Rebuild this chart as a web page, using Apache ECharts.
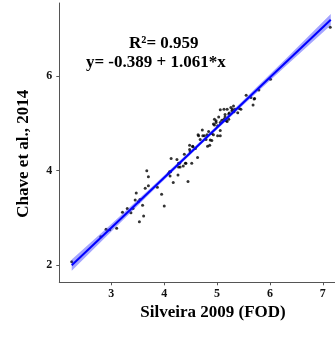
<!DOCTYPE html>
<html>
<head>
<meta charset="utf-8">
<script src="https://cdn.jsdelivr.net/npm/echarts@6/dist/echarts.min.js"></script>
<style>
html,body{margin:0;padding:0;background:#fff;}
#chart{width:335px;height:338px;}
</style>
</head>
<body>
<div id="chart"></div>
<script>
// Observed points (Silveira 2009 FOD on x, Chave et al. 2014 on y)
var ptsX = [2.25,2.80,2.90,2.97,3.10,3.21,3.30,3.37,3.41,3.45,3.47,3.51,3.54,3.53,3.59,3.61,3.64,3.67,3.70,3.70,
            3.87,3.95,4.00,4.10,4.11,4.13,4.17,4.24,4.26,4.29,4.30,4.36,4.38,4.41,4.45,4.48,4.49,4.52,4.54,4.59,
            4.63,4.65,4.68,4.72,4.76,4.82,4.87,4.93,4.95,4.95,4.98,5.01,5.06,5.06,5.09,5.13,5.15,5.19,5.22,5.23,
            5.26,5.28,5.31,5.34,5.39,5.42,5.55,5.64,5.68,5.70,5.79,6.01,7.14,5.29,5.32,5.19,5.15,5.22,5.03,5.13,
            4.98,4.93,5.06,5.17,5.06,4.84,4.73,4.79,4.90,4.86,5.01,4.64,4.81,4.90,4.54,4.48,4.27,4.40,4.27,4.12,
            4.08,5.45,5.71];
var ptsY = [2.07,2.60,2.76,2.75,2.78,3.12,3.20,3.11,3.20,3.38,3.53,3.34,3.39,2.92,3.27,3.04,3.63,4.00,3.87,3.68,
            3.65,3.50,3.25,3.98,3.89,4.26,3.75,4.24,3.91,4.16,4.08,4.10,4.35,4.16,3.77,4.54,4.40,4.16,4.51,4.47,
            4.28,4.74,4.66,4.86,4.74,4.52,4.65,4.76,4.97,5.09,5.02,4.95,4.74,5.29,5.07,5.30,5.14,5.04,5.09,5.22,
            5.34,5.27,5.37,5.30,5.23,5.32,5.60,5.55,5.39,5.52,5.71,5.94,7.04,5.30,5.25,5.30,5.19,5.20,5.14,5.09,
            5.06,4.99,5.02,5.06,4.85,4.83,4.74,4.66,4.64,4.54,4.74,4.76,4.76,4.79,4.52,4.45,4.16,4.16,4.08,3.98,
            3.94,5.30,5.53];

// Fitted regression line endpoints (y = -0.389 + 1.061*x)
var fitX = [2.25, 7.15];
var fitY = [1.998, 7.197];

// Confidence band
var bandX  = [2.25, 3.0, 3.8, 4.7, 5.5, 6.3, 7.15];
var bandLo = [1.88, 2.71, 3.59, 4.56, 5.40, 6.22, 7.08];
var bandHi = [2.12, 2.87, 3.69, 4.64, 5.50, 6.37, 7.32];

var xTicks = [3, 4, 5, 6, 7];
var yTicks = [2, 4, 6];

var annR2 = 'R²= 0.959';
var annEq = 'y= -0.389 + 1.061*x';
var xTitle = 'Silveira 2009 (FOD)';
var yTitle = 'Chave et al., 2014';

var FONT = '"Liberation Serif", "Times New Roman", serif';

var points = ptsX.map(function (x, i) { return [x, ptsY[i]]; });
var fitLine = fitX.map(function (x, i) { return [x, fitY[i]]; });

var chart = echarts.init(document.getElementById('chart'), null, {renderer: 'canvas'});

var axisCommon = function (ticks) {
  return {
    type: 'value',
    splitLine: {show: false},
    axisLine: {show: true, onZero: false, lineStyle: {color: '#555', width: 1}},
    axisTick: {show: true, length: 3, customValues: ticks, lineStyle: {color: '#555', width: 1}},
    axisLabel: {customValues: ticks, color: '#111', fontFamily: FONT, fontWeight: 'bold', fontSize: 12},
    minorTick: {show: false}
  };
};

var xAxis = axisCommon(xTicks);
xAxis.min = 2.015; xAxis.max = 7.23;
xAxis.axisLabel.margin = 6;
var yAxis = axisCommon(yTicks);
yAxis.min = 1.636; yAxis.max = 7.553;
yAxis.axisLabel.margin = 7;

chart.setOption({
  animation: false,
  backgroundColor: '#fff',
  grid: {left: 59.3, right: 0, top: 3, bottom: 55.7, containLabel: false, outerBoundsMode: 'none'},
  xAxis: xAxis,
  yAxis: yAxis,
  series: [
    {
      type: 'scatter',
      data: points,
      symbol: 'circle',
      symbolSize: 3,
      itemStyle: {color: '#000'},
      z: 2
    },
    {
      type: 'custom',
      data: [[bandX[0], bandLo[0]]],
      clip: true,
      z: 3,
      renderItem: function (params, api) {
        if (params.dataIndex !== 0) return;
        var poly = [];
        for (var i = 0; i < bandX.length; i++) poly.push(api.coord([bandX[i], bandHi[i]]));
        for (var j = bandX.length - 1; j >= 0; j--) poly.push(api.coord([bandX[j], bandLo[j]]));
        return {
          type: 'polygon',
          shape: {points: poly},
          style: {fill: 'rgba(40,40,255,0.42)', stroke: null}
        };
      }
    },
    {
      type: 'line',
      data: fitLine,
      showSymbol: false,
      lineStyle: {color: '#0000ff', width: 2},
      z: 4
    }
  ],
  graphic: [
    {type: 'text', x: 163.8, y: 43.7, style: {text: annR2, font: 'bold 17px ' + FONT, fill: '#000', align: 'center', verticalAlign: 'middle', textAlign: 'center', textVerticalAlign: 'middle'}},
    {type: 'text', x: 155.8, y: 62.5, style: {text: annEq, font: 'bold 17px ' + FONT, fill: '#000', align: 'center', verticalAlign: 'middle', textAlign: 'center', textVerticalAlign: 'middle'}},
    {type: 'text', x: 213, y: 312.7, style: {text: xTitle, font: 'bold 17px ' + FONT, fill: '#000', align: 'center', verticalAlign: 'middle', textAlign: 'center', textVerticalAlign: 'middle'}},
    {type: 'text', x: 24, y: 153.7, rotation: Math.PI / 2, style: {text: yTitle, font: 'bold 17px ' + FONT, fill: '#000', align: 'center', verticalAlign: 'middle', textAlign: 'center', textVerticalAlign: 'middle'}}
  ]
});
</script>
</body>
</html>
